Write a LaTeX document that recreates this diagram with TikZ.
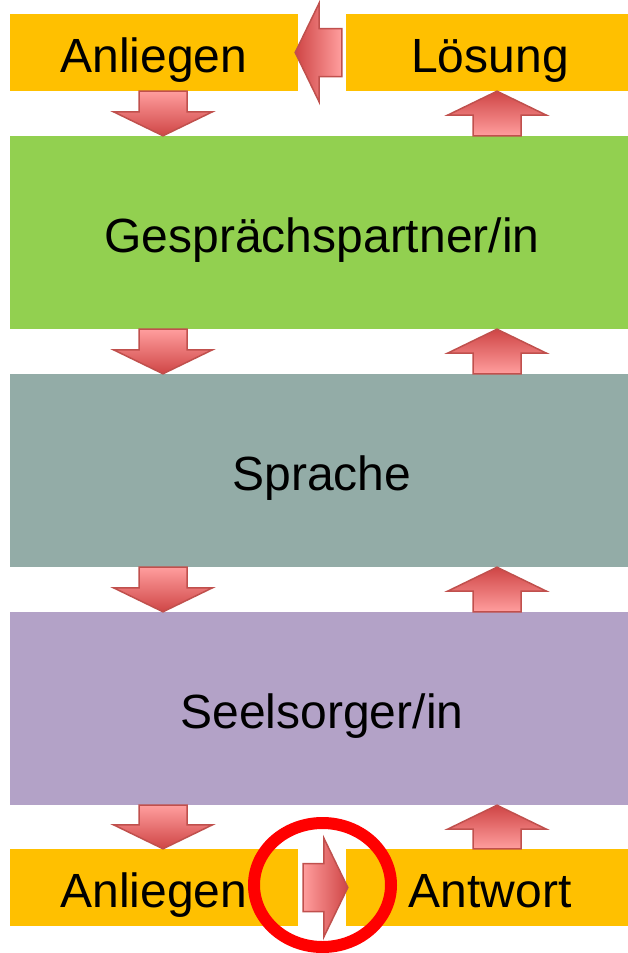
\documentclass[tikz,border=0pt]{standalone}
\usepackage{fontspec}
\setmainfont{Liberation Sans}
\usetikzlibrary{calc,shapes.geometric}

\definecolor{boxorange}{HTML}{FFC000}
\definecolor{boxgreen}{HTML}{92D050}
\definecolor{boxteal}{HTML}{93ACA7}
\definecolor{boxlilac}{HTML}{B3A2C7}
\definecolor{arrlight}{HTML}{FF9E9E}
\definecolor{arrdark}{HTML}{CF4545}
\definecolor{arredge}{HTML}{C0504D}
\definecolor{markred}{HTML}{FF0000}

\tikzset{
  box/.style={fill=#1, inner sep=0pt, minimum height=77pt,
    minimum width=288pt, text height=39pt, text depth=0pt,
    font=\fontsize{48}{58}\selectfont},
  widebox/.style={box=#1, minimum width=624pt, minimum height=193pt},
  blockarrow/.style={draw=arredge, line width=1.5pt, line join=miter},
  downfill/.style={top color=arrlight, bottom color=arrdark},
  upfill/.style={top color=arrdark, bottom color=arrlight},
  leftfill/.style={left color=arrdark, right color=arrlight},
  rightfill/.style={left color=arrlight, right color=arrdark},
}

% block arrow: #1 fill style, #2 tail, #3 tip
\newcommand\blockarrow[3]{%
  \coordinate (ba-h) at ($(#3)!24pt!(#2)$);
  \path[blockarrow,#1]
    ($(#2)!24pt!90:(#3)$) -- ($(ba-h)!24pt!90:(#3)$) --
    ($(ba-h)!49.5pt!90:(#3)$) -- (#3) --
    ($(ba-h)!49.5pt!-90:(#3)$) -- ($(ba-h)!24pt!-90:(#3)$) --
    ($(#2)!24pt!-90:(#3)$) -- cycle;}

\begin{document}
\begin{tikzpicture}[x=1pt,y=-1pt]
\useasboundingbox (0,0) rectangle (627,953);

% boxes (the right-hand ones run past the page edge)
\node (anl1) [box=boxorange] at (154,52.5) {Anliegen};
\node (loes) [box=boxorange] at (490,52.5) {Lösung};
\node (gp)   [widebox=boxgreen] at (322,232.5) {Gesprächspartner/in};
\node (spr)  [widebox=boxteal]  at (322,470.5) {Sprache};
\node (seel) [widebox=boxlilac] at (322,708.5) {Seelsorger/in};
\node (anl2) [box=boxorange] at (154,887.5) {Anliegen};
\node (antw) [box=boxorange] at (490,887.5) {Antwort};

% arrow columns
\coordinate (colL) at (163,0);
\coordinate (colR) at (497,0);

% downward path on the left
\blockarrow{downfill}{anl1.south -| colL}{gp.north -| colL}
\blockarrow{downfill}{gp.south -| colL}{spr.north -| colL}
\blockarrow{downfill}{spr.south -| colL}{seel.north -| colL}
\blockarrow{downfill}{seel.south -| colL}{anl2.north -| colL}

% upward path on the right
\blockarrow{upfill}{gp.north -| colR}{loes.south -| colR}
\blockarrow{upfill}{spr.north -| colR}{gp.south -| colR}
\blockarrow{upfill}{seel.north -| colR}{spr.south -| colR}
\blockarrow{upfill}{antw.north -| colR}{seel.south -| colR}

% horizontal arrows
\blockarrow{leftfill}{[xshift=-4pt]loes.west}{[xshift=-3pt]anl1.east}
\blockarrow{rightfill}{[xshift=5pt]anl2.east}{[xshift=2pt]antw.west}

% highlight ring
\node (ring) [ellipse, draw=markred, line width=12pt, inner sep=0pt,
  minimum width=137pt, minimum height=124pt] at (322.5,885) {};
\end{tikzpicture}
\end{document}
